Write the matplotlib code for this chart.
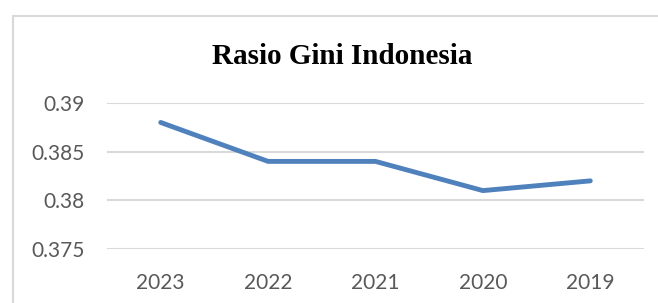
import matplotlib.pyplot as plt
from matplotlib.patches import Rectangle

years = ["2023", "2022", "2021", "2020", "2019"]
gini = [0.388, 0.384, 0.384, 0.381, 0.382]
y_ticks = [0.375, 0.38, 0.385, 0.39]
y_labels = ["0.375", "0.38", "0.385", "0.39"]

fig = plt.figure(figsize=(6.58, 3.03), dpi=100)
# chart border (left and top visible)
fig.patches.append(Rectangle((13 / 658, -0.1), 1.0, 1 - 15.5 / 303 + 0.1,
                             transform=fig.transFigure, fill=False,
                             edgecolor="#d9d9d9", linewidth=1.5))

ax = fig.add_axes([107 / 658, 1 - 249 / 303, 537 / 658, 146 / 303])
x = list(range(len(years)))
ax.plot(x, gini, color="#4f81bd", linewidth=3.5, solid_capstyle="round")
ax.set_xlim(-0.5, len(years) - 0.5)
ax.set_ylim(0.375, 0.39)
ax.set_xticks(x)
ax.set_xticklabels(years)
ax.set_yticks(y_ticks)
ax.set_yticklabels(y_labels)
ax.tick_params(length=0, labelsize=15, labelcolor="#595959")
ax.tick_params(axis="y", pad=16)
ax.tick_params(axis="x", pad=17.5)
for lab in ax.get_xticklabels() + ax.get_yticklabels():
    lab.set_family("Lato")
ax.grid(axis="y", color="#d9d9d9", linewidth=1.5)
ax.set_axisbelow(True)
for s in ax.spines.values():
    s.set_visible(False)

fig.text(342 / 658, 1 - 56 / 303, "Rasio Gini Indonesia", ha="center", va="center",
         fontsize=21, fontweight="bold", family="Liberation Serif")

fig.savefig("out.png", dpi=100)
